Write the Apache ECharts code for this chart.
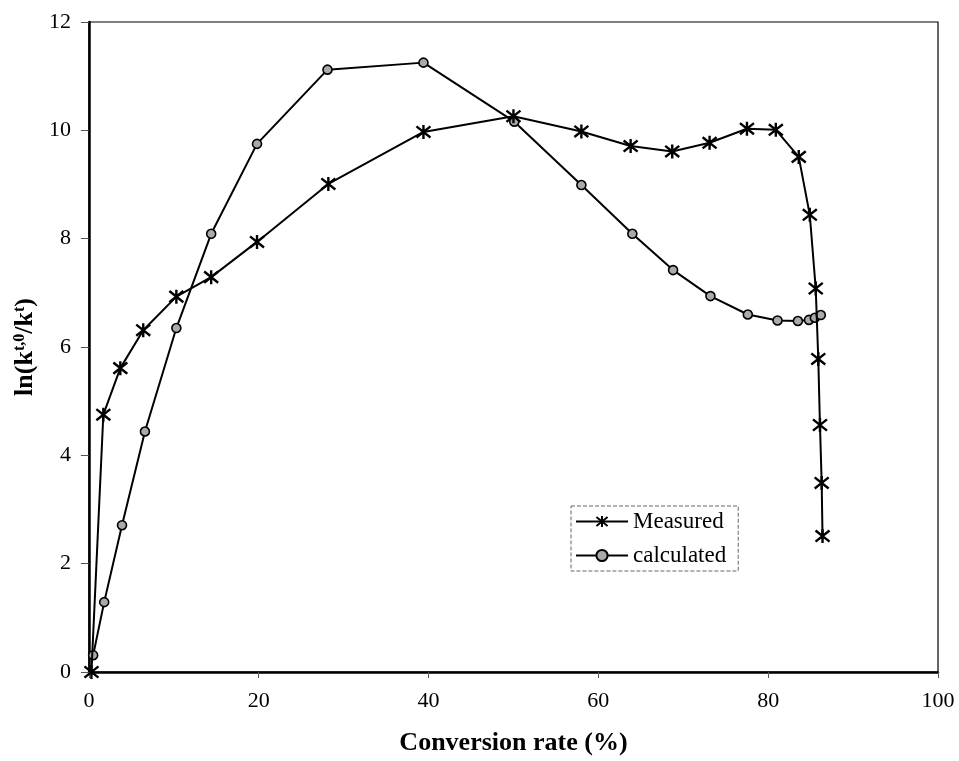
<!DOCTYPE html>
<html>
<head>
<meta charset="utf-8">
<script src="https://cdn.jsdelivr.net/npm/echarts@6/dist/echarts.min.js"></script>
<style>
html,body{margin:0;padding:0;background:#fff;}
#chart{width:959px;height:761px;}
</style>
</head>
<body>
<div id="chart"></div>
<script>
// Data
const measuredX = [0.3, 1.7, 3.7, 6.4, 10.3, 14.4, 19.8, 28.2, 39.4, 50.0, 58.0, 63.8, 68.7, 73.1, 77.5, 80.9, 83.6, 84.9, 85.6, 85.9, 86.1, 86.3, 86.4];
const measuredY = [0.0, 4.75, 5.61, 6.31, 6.93, 7.29, 7.94, 9.01, 9.97, 10.26, 9.98, 9.71, 9.61, 9.77, 10.03, 10.01, 9.51, 8.44, 7.08, 5.78, 4.56, 3.49, 2.51];
const calcX = [0.5, 1.8, 3.9, 6.6, 10.3, 14.4, 19.8, 28.1, 39.4, 50.1, 58.0, 64.0, 68.8, 73.2, 77.6, 81.1, 83.5, 84.8, 85.5, 86.2];
const calcY = [0.31, 1.29, 2.71, 4.44, 6.35, 8.09, 9.75, 11.12, 11.25, 10.16, 8.99, 8.09, 7.42, 6.94, 6.60, 6.49, 6.48, 6.50, 6.54, 6.59];
const seriesNames = ['Measured', 'calculated'];
const xTitle = 'Conversion rate (%)';

const FONT = "'Liberation Serif', 'Times New Roman', serif";
const zip = (xs, ys) => xs.map((x, i) => [x, ys[i]]);
const asterisk = 'path://M0,-10L0,10M-7.5,-8L7.5,8M-7.5,8L7.5,-8';

const chart = echarts.init(document.getElementById('chart'), null, {renderer: 'canvas'});
chart.setOption({
  animation: false,
  backgroundColor: '#fff',
  grid: {left: 88, right: 21, top: 22, bottom: 87, show: true, borderColor: '#000', borderWidth: 1.2},
  legend: {
    orient: 'vertical',
    left: 571, top: 506,
    padding: [4, 12, 4, 4],
    itemGap: 11,
    itemWidth: 52, itemHeight: 14,
    borderColor: '#666', borderWidth: 1, borderType: 'dashed',
    textStyle: {fontFamily: FONT, fontSize: 23, color: '#000'},
    data: seriesNames
  },
  xAxis: {
    type: 'value', min: 0, max: 100, interval: 20,
    name: xTitle, nameLocation: 'middle', nameGap: 58,
    nameTextStyle: {fontFamily: FONT, fontSize: 26, fontWeight: 'bold', color: '#000'},
    axisLine: {show: true, onZero: false, lineStyle: {color: '#000', width: 2.5}},
    axisTick: {show: true, length: 6, lineStyle: {color: '#555', width: 1}},
    axisLabel: {fontFamily: FONT, fontSize: 22, color: '#000', margin: 18},
    splitLine: {show: false}
  },
  yAxis: {
    type: 'value', min: 0, max: 12, interval: 2,
    name: '{b|ln(k}{s|t,0}{b|/k}{s|t}{b|)}', nameLocation: 'middle', nameGap: 48, nameRotate: 90,
    nameTextStyle: {
      rich: {
        b: {fontFamily: FONT, fontSize: 26, fontWeight: 'bold', color: '#000', lineHeight: 30, verticalAlign: 'bottom'},
        s: {fontFamily: FONT, fontSize: 16, fontWeight: 'bold', color: '#000', lineHeight: 30, verticalAlign: 'top', padding: [4, 0, 0, 0]}
      }
    },
    axisLine: {show: true, onZero: false, lineStyle: {color: '#000', width: 2.5}},
    axisTick: {show: true, length: 8, lineStyle: {color: '#555', width: 1}},
    axisLabel: {fontFamily: FONT, fontSize: 22, color: '#000', margin: 18},
    splitLine: {show: false}
  },
  series: [
    {
      name: seriesNames[1], type: 'line', z: 3,
      data: zip(calcX, calcY),
      symbol: 'circle', symbolSize: 9,
      lineStyle: {color: '#000', width: 2},
      itemStyle: {color: '#aaa', borderColor: '#000', borderWidth: 1.6}
    },
    {
      name: seriesNames[0], type: 'line', z: 4,
      data: zip(measuredX, measuredY),
      symbol: asterisk, symbolSize: [14, 14],
      lineStyle: {color: '#000', width: 2},
      itemStyle: {color: '#000', borderColor: '#000', borderWidth: 2.4}
    }
  ]
});
</script>
</body>
</html>
